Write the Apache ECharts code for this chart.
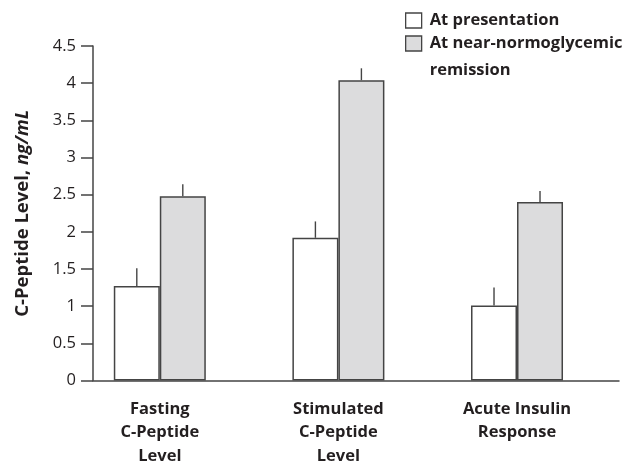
<!DOCTYPE html>
<html>
<head>
<meta charset="utf-8">
<script src="https://cdn.jsdelivr.net/npm/echarts@6/dist/echarts.min.js"></script>
<style>html,body{margin:0;padding:0;background:#fff;overflow:hidden}#c{width:629px;height:468px}</style>
</head>
<body>
<div id="c"></div>
<script>
const categories = ['Fasting\nC-Peptide\nLevel', 'Stimulated\nC-Peptide\nLevel', 'Acute Insulin\nResponse'];
const categoryPos = [1, 2, 3];
const presentation = [1.27, 1.92, 1.01];
const presentationErr = [0.24, 0.22, 0.24];
const remission = [2.48, 4.04, 2.40];
const remissionErr = [0.16, 0.16, 0.15];
const yTicks = [0, 0.5, 1, 1.5, 2, 2.5, 3, 3.5, 4, 4.5];
const seriesNames = ['At presentation', 'At near-normoglycemic remission'];

const BAR_W = 46;
const FONT = 'Open Sans';
const INK = '#231f20';
const EDGE = '#444';
const FS = 16.5;

function pairs(vals) { return vals.map((v, i) => [categoryPos[i], v]); }
function errPairs(vals, errs) { return vals.map((v, i) => [categoryPos[i], v, v + errs[i]]); }

function errorSeries(vals, errs, dir) {
  return {
    type: 'custom',
    silent: true,
    z: 1,
    data: errPairs(vals, errs),
    encode: { x: 0, y: [1, 2] },
    renderItem: function (params, api) {
      const a = api.coord([api.value(0), api.value(1)]);
      const b = api.coord([api.value(0), api.value(2)]);
      const dx = dir * BAR_W / 2;
      return {
        type: 'line',
        shape: { x1: a[0] + dx, y1: a[1], x2: b[0] + dx, y2: b[1] },
        style: { stroke: EDGE, lineWidth: 1.4 }
      };
    }
  };
}

const legendBase = {
  orient: 'vertical',
  left: 405,
  padding: 0,
  selectedMode: false,
  icon: 'rect',
  itemWidth: 16, itemHeight: 15,
  itemStyle: { borderColor: EDGE, borderWidth: 1.3 }
};

const chart = echarts.init(document.getElementById('c'), null, { renderer: 'canvas' });
chart.setOption({
  animation: false,
  backgroundColor: '#fff',
  grid: { left: 93, right: 10, top: 46, height: 343, containLabel: false },
  legend: [
    Object.assign({}, legendBase, {
      top: 12,
      data: [seriesNames[0]],
      textStyle: { fontFamily: FONT, fontWeight: 'bold', fontSize: FS, color: INK, padding: [0, 0, 0, 3] }
    }),
    Object.assign({}, legendBase, {
      top: 3,
      data: [seriesNames[1]],
      formatter: function () { return '\nAt near-normoglycemic\nremission'; },
      textStyle: { fontFamily: FONT, fontWeight: 'bold', fontSize: FS, color: INK, lineHeight: 27, padding: [0, 0, 0, 3] }
    })
  ],
  xAxis: {
    type: 'value',
    min: 0.626, max: 3.571,
    splitLine: { show: false },
    axisTick: { show: false },
    axisLine: { show: true, onZero: false, lineStyle: { color: EDGE, width: 1.5 } },
    axisLabel: {
      customValues: categoryPos,
      formatter: function (v) { return categories[Math.round(v) - 1]; },
      fontFamily: FONT, fontWeight: 'bold', fontSize: FS, color: INK,
      lineHeight: 23.5, margin: 17, align: 'center'
    }
  },
  yAxis: {
    type: 'value',
    min: 0, max: 4.5, interval: 0.5,
    splitLine: { show: false },
    axisLine: { show: true, lineStyle: { color: EDGE, width: 1.5 } },
    axisTick: { show: true, length: 12, lineStyle: { color: EDGE, width: 1.5 } },
    axisLabel: {
      fontFamily: FONT, fontSize: FS, color: INK, margin: 17,
      formatter: function (v) { return yTicks.indexOf(v) >= 0 ? String(v) : ''; }
    },
    name: '{b|C-Peptide Level, }{i|ng/mL}',
    nameLocation: 'middle',
    nameGap: 61,
    nameRotate: 90,
    nameTextStyle: {
      rich: {
        b: { fontFamily: FONT, fontWeight: 'bold', fontSize: 18.5, color: INK },
        i: { fontFamily: FONT, fontWeight: 'bold', fontStyle: 'italic', fontSize: 18.5, color: INK }
      }
    }
  },
  series: [
    {
      name: seriesNames[0], type: 'bar', barWidth: BAR_W, barGap: '0%', z: 2,
      data: pairs(presentation),
      itemStyle: { color: '#ffffff', borderColor: EDGE, borderWidth: 1.5 }
    },
    {
      name: seriesNames[1], type: 'bar', barWidth: BAR_W, barGap: '0%', z: 2,
      data: pairs(remission),
      itemStyle: { color: '#dcdcdd', borderColor: EDGE, borderWidth: 1.5 }
    },
    errorSeries(presentation, presentationErr, -1),
    errorSeries(remission, remissionErr, 1)
  ]
});
</script>
</body>
</html>
